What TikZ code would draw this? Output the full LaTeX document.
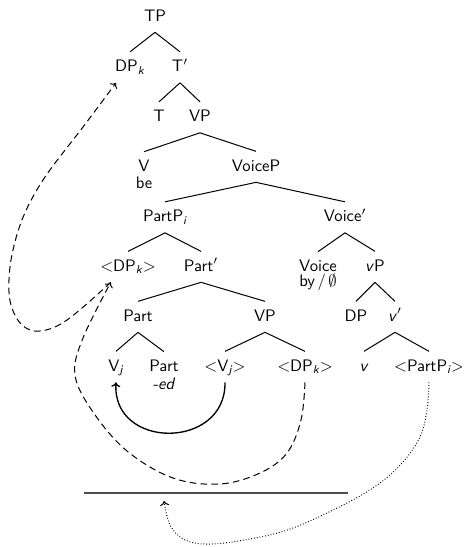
\documentclass[tikz,border=0pt]{standalone}
\usepackage{fontspec}
\usetikzlibrary{arrows.meta}
% italic sans subscript for indices
\newcommand\lsub[1]{\textsubscript{\itshape #1}}
\begin{document}
\begin{tikzpicture}[x=0.6pt,y=-0.6pt,font=\sffamily,
  tn/.style={anchor=base,text height=7pt,text depth=2pt,inner xsep=1pt,inner ysep=4.6pt},
  tn2/.style={anchor=north,align=center,inner xsep=1pt,inner ysep=4.6pt},
  br/.style={line width=0.6pt},
  tip/.style={-{To[length=2.8pt,width=5.4pt]}},
  mvdash/.style={tip,line width=0.6pt,dash pattern=on 4pt off 2.5pt},
  mvsolid/.style={tip,line width=0.8pt},
  mvdot/.style={tip,line width=0.6pt,dash pattern=on 0.5pt off 1.2pt},
  rule/.style={line width=0.8pt,black!70}]
\useasboundingbox (0,0) rectangle (467,547);

% tree nodes, placed on their baselines (two-line leaves by their tops)
\node[tn] (TP) at (155,21) {TP};
\node[tn] (DPk) at (130,71.5) {DP\lsub{k}};
\node[tn] (Tbar) at (180,71.5) {T$'$};
\node[tn] (T) at (159,121.5) {T};
\node[tn] (VP1) at (200,121.5) {VP};
\node[tn2] (V) at (144,151.7) {V\\[-1.8pt]be};
\node[tn] (VoiceP) at (256,171) {VoiceP};
\node[tn] (PartP) at (165,221.5) {PartP\lsub{i}};
\node[tn] (Voicebar) at (345,221.5) {Voice$'$};
\node[tn] (DPka) at (128,271) {$<$DP\lsub{k}$>$};
\node[tn] (Partbar) at (201,271) {Part$'$};
\node[tn2] (Voice) at (318,251.7) {Voice\\[-2.6pt]by\kern1.5pt/\kern1.5pt$\emptyset$};
\node[tn] (vP) at (375,271) {\textit{v}P};
\node[tn] (Part) at (138,321) {Part};
\node[tn] (VP2) at (265,321) {VP};
\node[tn] (DP) at (356,321) {DP};
\node[tn] (vbar) at (395,321) {\textit{v}$'$};
\node[tn] (Vj) at (116,371) {V\lsub{j}};
\node[tn2] (Parthd) at (164,351.7) {Part\\[-1.2pt]\textit{-ed}};
\node[tn] (Vjt) at (225,371) {$<$V\lsub{j}$>$};
\node[tn] (DPkb) at (305,371) {$<$DP\lsub{k}$>$};
\node[tn] (v) at (364,371) {\textit{v}};
\node[tn] (PartPt) at (429,371) {$<$PartP\lsub{i}$>$};

% branches
\foreach \p/\c in {TP/DPk,TP/Tbar,Tbar/T,Tbar/VP1,VP1/V,VP1/VoiceP,
    VoiceP/PartP,VoiceP/Voicebar,PartP/DPka,PartP/Partbar,
    Voicebar/Voice,Voicebar/vP,Partbar/Part,Partbar/VP2,vP/DP,vP/vbar,
    Part/Vj,Part/Parthd,VP2/Vjt,VP2/DPkb,vbar/v,vbar/PartPt}
  \draw[br] (\p.south) -- (\c.north);

% rule below the tree
\coordinate (barL) at (84,493);
\coordinate (barR) at (348,493);
\coordinate (gap) at (164,501);
\draw[rule] (barL) -- (barR);

% head movement of V
\draw[mvsolid] (Vjt.south) .. controls (226,450) and (112,450) .. (Vj.south);

% DP movement, first step
\draw[mvdash] plot[smooth,tension=0.6] coordinates {(DPkb.south) (301,420) (287,453)
  (260,473) (220,484) (173,478) (127,451) (93,412) (75,375) (83,338) (DPka.222)};

% DP movement, second step
\draw[mvdash] plot[smooth,tension=0.6] coordinates {(DPka.222) (67,320) (40,331)
  (22,325) (11,305) (9,280) (13,250) (24,215) (45,177) (83,127) (DPk.228)};

% PartP movement
\draw[mvdot] plot[smooth,tension=0.6] coordinates {(PartPt.south) (427,410) (420,437)
  (403,462) (380,483) (347,503) (293,528) (250,539) (210,544) (185,540) (170,525) (gap)};
\end{tikzpicture}
\end{document}
